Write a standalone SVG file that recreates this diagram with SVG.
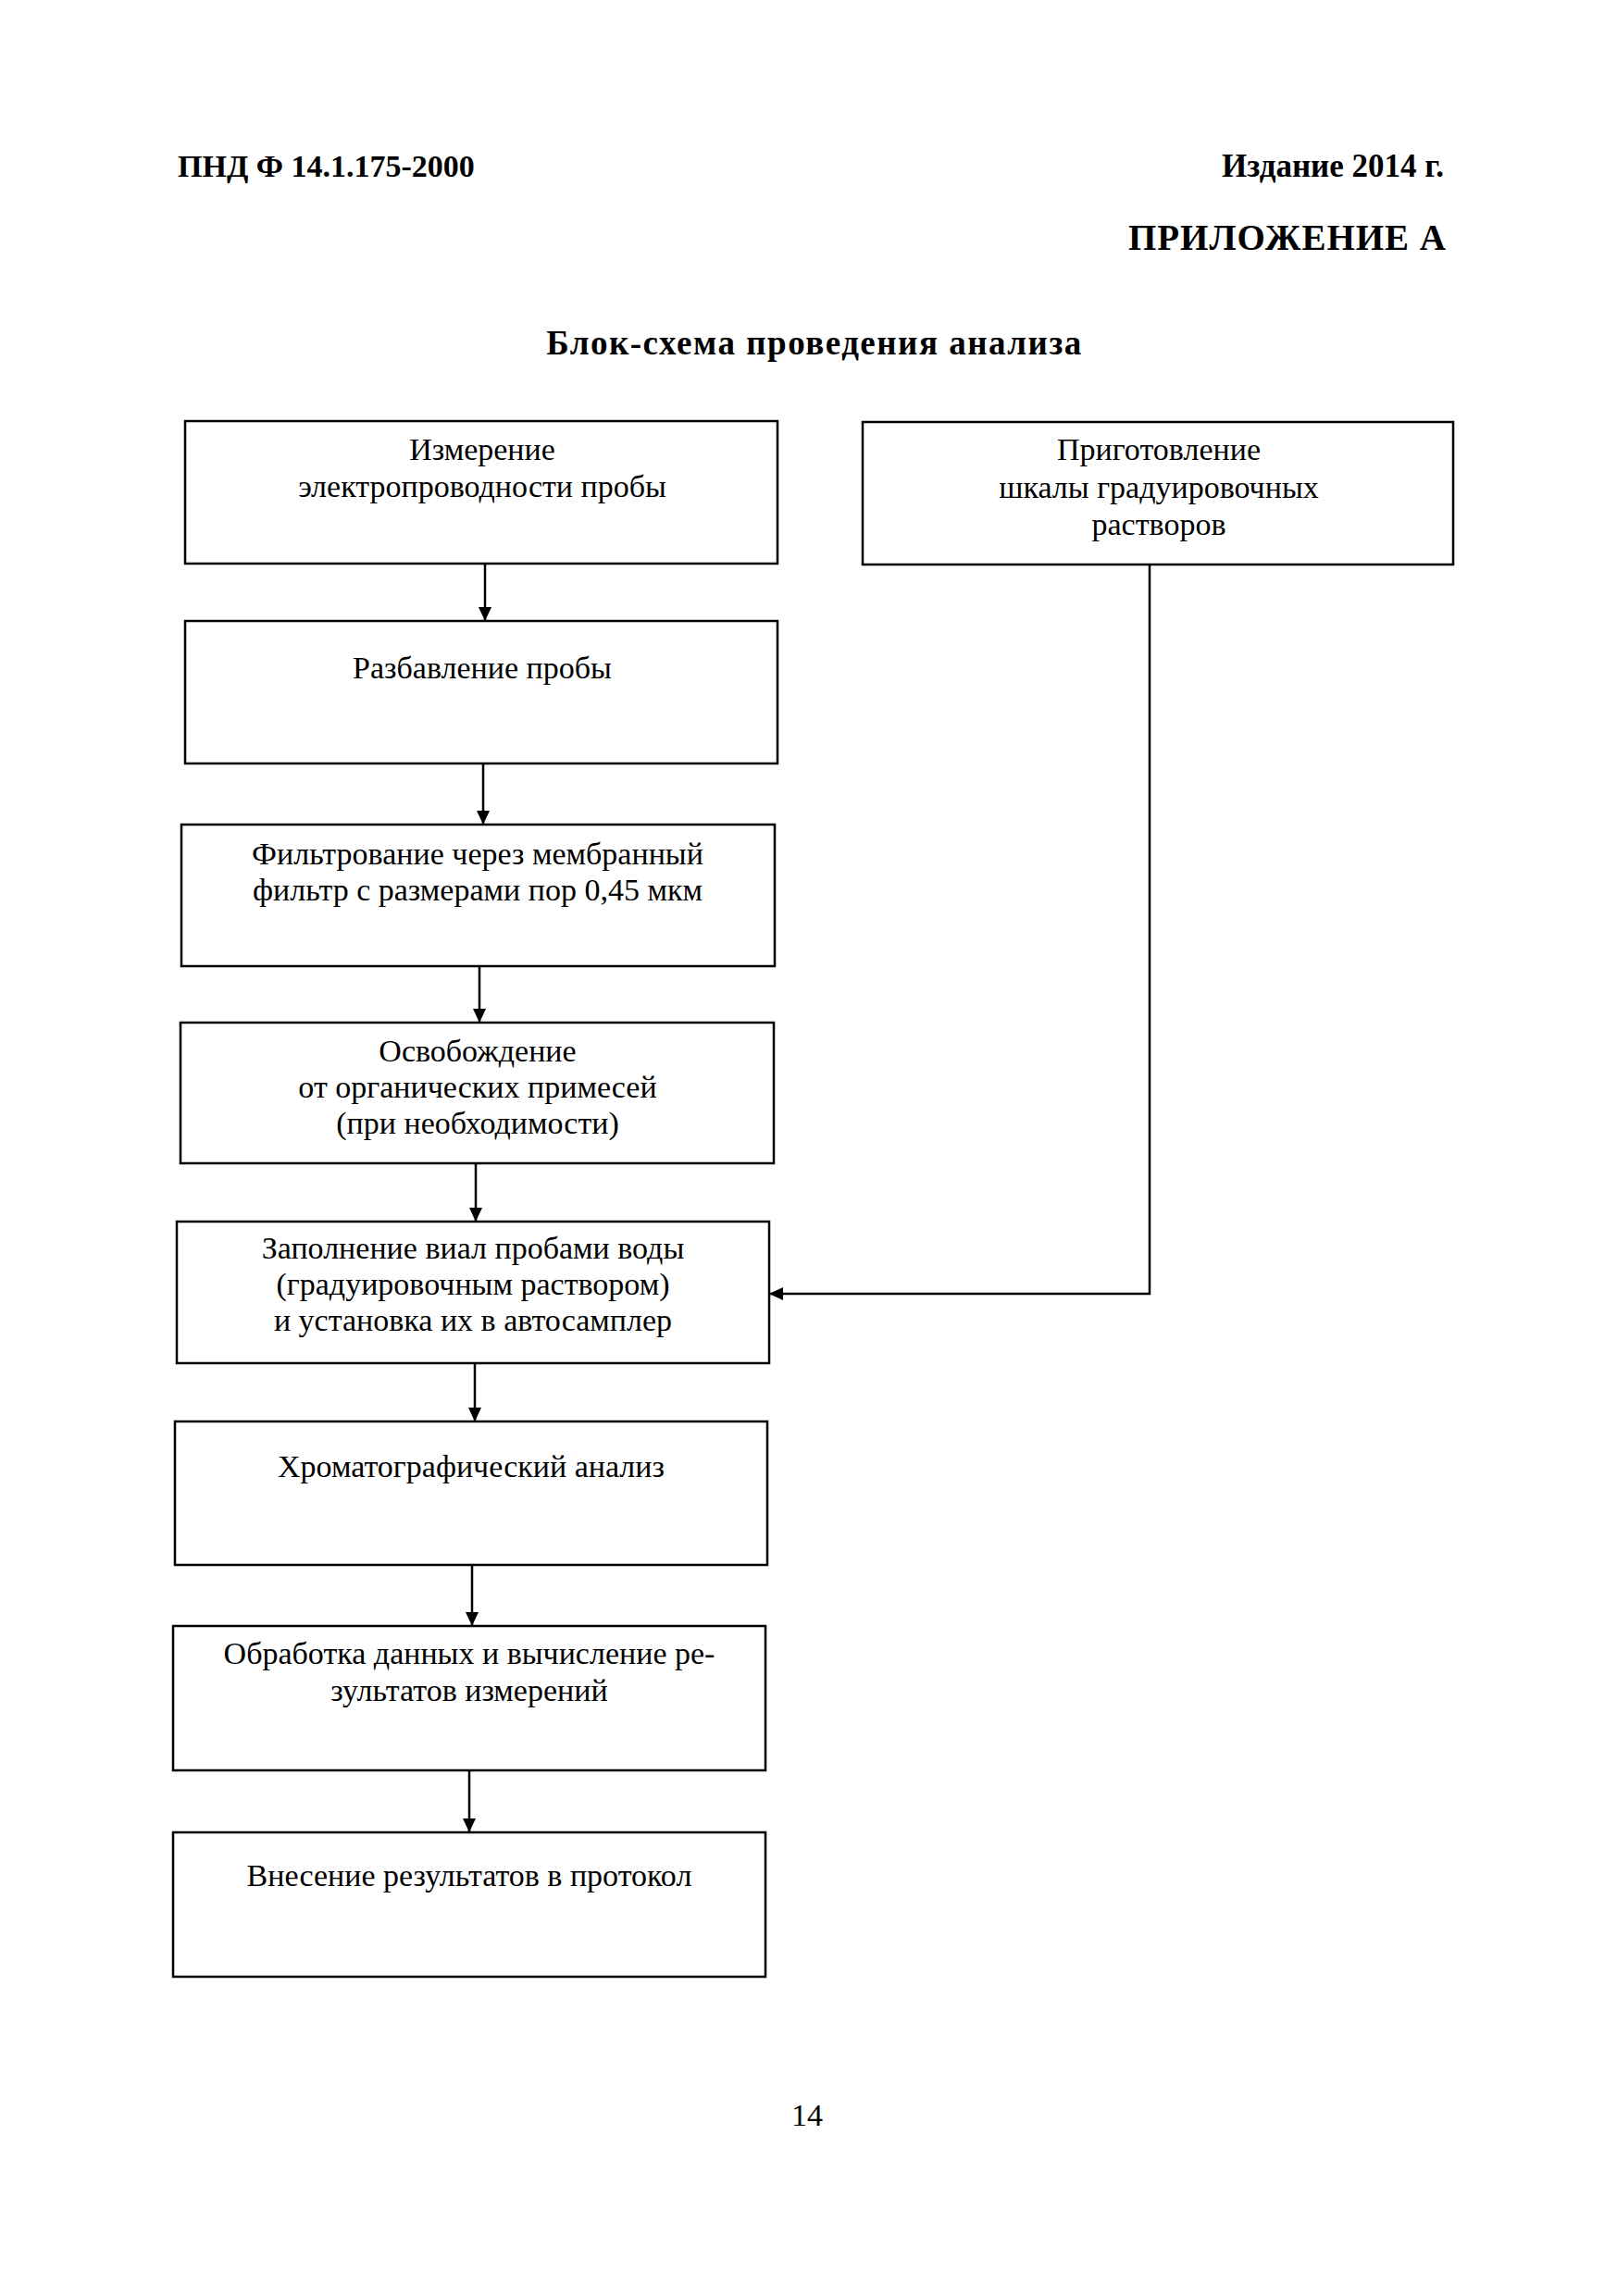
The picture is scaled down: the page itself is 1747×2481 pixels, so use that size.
<svg xmlns="http://www.w3.org/2000/svg" width="1747" height="2481" viewBox="0 0 1747 2481">
<style>
  .box { fill: #fff; stroke: #000; stroke-width: 2.5; }
  .t { font-family: "Liberation Serif", "Times New Roman", serif; font-size: 34px; fill: #000; text-anchor: middle; }
  .h { font-family: "Liberation Serif", "Times New Roman", serif; font-weight: bold; fill: #000; }
  .c { fill: none; stroke: #000; stroke-width: 2.5; }
</style>
<defs>
  <marker id="ah" markerWidth="15" markerHeight="14" refX="15" refY="7" orient="auto" markerUnits="userSpaceOnUse">
    <path d="M0,0 L15,7 L0,14 Z" fill="#000"/>
  </marker>
</defs>
<rect width="1747" height="2481" fill="#fff"/>

<g id="header">
  <text class="h" x="192" y="191" font-size="34">ПНД Ф 14.1.175-2000</text>
  <text class="h" x="1560" y="191" font-size="35" text-anchor="end">Издание 2014 г.</text>
  <text class="h" x="1563" y="270" font-size="39" text-anchor="end" letter-spacing="1">ПРИЛОЖЕНИЕ А</text>
  <text class="h" x="880" y="383" font-size="37" text-anchor="middle" letter-spacing="1.5">Блок-схема проведения анализа</text>
</g>

<g id="connectors">
  <line class="c" x1="524" y1="609" x2="524" y2="671" marker-end="url(#ah)"/>
  <line class="c" x1="522" y1="825" x2="522" y2="891" marker-end="url(#ah)"/>
  <line class="c" x1="518" y1="1044" x2="518" y2="1105" marker-end="url(#ah)"/>
  <line class="c" x1="514" y1="1257" x2="514" y2="1320" marker-end="url(#ah)"/>
  <line class="c" x1="513" y1="1473" x2="513" y2="1536" marker-end="url(#ah)"/>
  <line class="c" x1="510" y1="1691" x2="510" y2="1757" marker-end="url(#ah)"/>
  <line class="c" x1="507" y1="1913" x2="507" y2="1980" marker-end="url(#ah)"/>
  <polyline class="c" points="1242,610 1242,1398 831,1398" marker-end="url(#ah)"/>
</g>

<g id="n1">
  <rect class="box" x="200" y="455" width="640" height="154"/>
  <text class="t" x="521" y="497">Измерение</text>
  <text class="t" x="521" y="537">электропроводности пробы</text>
</g>
<g id="n_scale">
  <rect class="box" x="932" y="456" width="638" height="154"/>
  <text class="t" x="1252" y="497">Приготовление</text>
  <text class="t" x="1252" y="538">шкалы градуировочных</text>
  <text class="t" x="1252" y="578">растворов</text>
</g>
<g id="n2">
  <rect class="box" x="200" y="671" width="640" height="154"/>
  <text class="t" x="521" y="733">Разбавление пробы</text>
</g>
<g id="n3">
  <rect class="box" x="196" y="891" width="641" height="153"/>
  <text class="t" x="516" y="934">Фильтрование через мембранный</text>
  <text class="t" x="516" y="973">фильтр с размерами пор 0,45 мкм</text>
</g>
<g id="n4">
  <rect class="box" x="195" y="1105" width="641" height="152"/>
  <text class="t" x="516" y="1147">Освобождение</text>
  <text class="t" x="516" y="1186">от органических примесей</text>
  <text class="t" x="516" y="1225">(при необходимости)</text>
</g>
<g id="n5">
  <rect class="box" x="191" y="1320" width="640" height="153"/>
  <text class="t" x="511" y="1360">Заполнение виал пробами воды</text>
  <text class="t" x="511" y="1399">(градуировочным раствором)</text>
  <text class="t" x="511" y="1438">и установка их в автосамплер</text>
</g>
<g id="n6">
  <rect class="box" x="189" y="1536" width="640" height="155"/>
  <text class="t" x="509" y="1596">Хроматографический анализ</text>
</g>
<g id="n7">
  <rect class="box" x="187" y="1757" width="640" height="156"/>
  <text class="t" x="507" y="1798">Обработка данных и вычисление ре-</text>
  <text class="t" x="507" y="1838">зультатов измерений</text>
</g>
<g id="n8">
  <rect class="box" x="187" y="1980" width="640" height="156"/>
  <text class="t" x="507" y="2038">Внесение результатов в протокол</text>
</g>

<g id="footer">
  <text class="t" x="872" y="2297" font-size="33">14</text>
</g>
</svg>
